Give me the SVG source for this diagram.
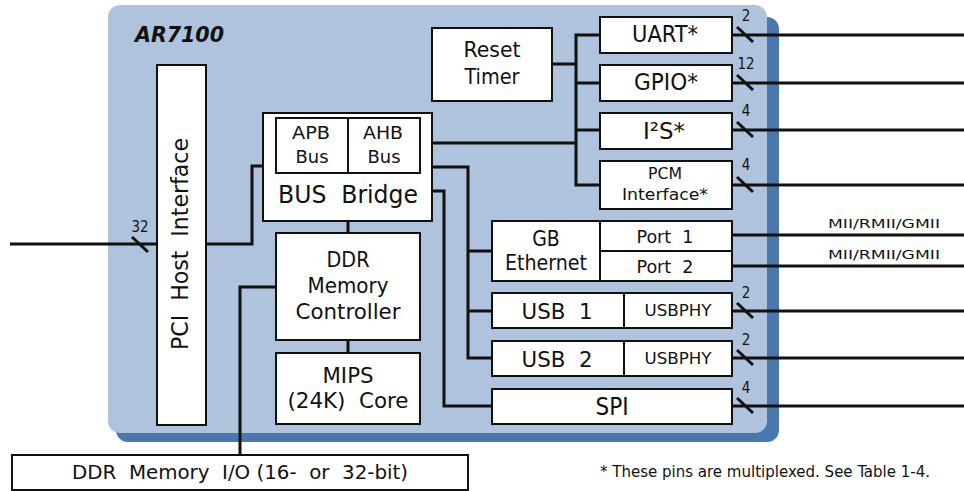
<svg xmlns="http://www.w3.org/2000/svg" width="964" height="491" viewBox="0 0 964 491">
<style>
text { font-family: "DejaVu Sans Condensed", "DejaVu Sans", sans-serif; fill: #111; text-anchor: middle; }
.box { fill: #fff; stroke: #111; stroke-width: 2; }
.div { stroke: #111; stroke-width: 2; fill: none; }
.w { fill: none; stroke: #111; stroke-width: 3; }
.sl { stroke: #111; stroke-width: 3; }
.n { font-size: 15px; }
.t18 { font-size: 18px; }
.t20 { font-size: 20px; }
.t21 { font-size: 21px; }
.t22 { font-size: 22px; }
.t23 { font-size: 23px; }
.t24 { font-size: 24px; }
.sm { font-size: 13px; }
</style>

<g id="chip">
  <rect x="116" y="17" width="663" height="425" rx="12" fill="#4a77ad"/>
  <rect x="108" y="5" width="659" height="428" rx="12" fill="#afc3dc"/>
  <text x="135" y="42" textLength="89" lengthAdjust="spacingAndGlyphs" style="text-anchor:start;font-size:22px;font-weight:bold;font-style:italic">AR7100</text>
</g>

<g id="connectors">
  <!-- PCI external -->
  <line class="w" x1="10" y1="244" x2="157" y2="244"/>
  <line class="sl" x1="132" y1="237" x2="148" y2="252"/>
  <text class="n" x="140" y="232" textLength="17" lengthAdjust="spacingAndGlyphs">32</text>
  <!-- PCI to bus bridge -->
  <polyline class="w" points="206,244 252,244 252,166 263,166"/>
  <!-- bus bridge to DDR, DDR to MIPS -->
  <line class="w" x1="348" y1="221" x2="348" y2="233"/>
  <line class="w" x1="348" y1="340" x2="348" y2="353"/>
  <!-- DDR to DDR I/O -->
  <polyline class="w" points="276,287 240,287 240,455"/>
  <!-- APB bus -->
  <line class="w" x1="432" y1="143" x2="576" y2="143"/>
  <line class="w" x1="552" y1="64" x2="576" y2="64"/>
  <polyline class="w" points="600,35 576,35 576,185 600,185"/>
  <line class="w" x1="576" y1="83" x2="600" y2="83"/>
  <line class="w" x1="576" y1="130" x2="600" y2="130"/>
  <!-- AHB bus -->
  <polyline class="w" points="432,167 468,167 468,358 492,358"/>
  <line class="w" x1="468" y1="251" x2="492" y2="251"/>
  <line class="w" x1="468" y1="311" x2="492" y2="311"/>
  <polyline class="w" points="432,191 444,191 444,406 492,406"/>
  <!-- external pins -->
  <line class="w" x1="732" y1="35" x2="964" y2="35"/>
  <line class="w" x1="732" y1="83" x2="964" y2="83"/>
  <line class="w" x1="732" y1="130" x2="964" y2="130"/>
  <line class="w" x1="732" y1="185" x2="964" y2="185"/>
  <line class="w" x1="732" y1="235" x2="964" y2="235"/>
  <line class="w" x1="732" y1="266" x2="964" y2="266"/>
  <line class="w" x1="732" y1="311" x2="964" y2="311"/>
  <line class="w" x1="732" y1="358" x2="964" y2="358"/>
  <line class="w" x1="732" y1="406" x2="964" y2="406"/>
  <!-- bus-width slashes -->
  <line class="sl" x1="737" y1="27" x2="753" y2="42"/>
  <line class="sl" x1="737" y1="75" x2="753" y2="90"/>
  <line class="sl" x1="737" y1="122" x2="753" y2="137"/>
  <line class="sl" x1="737" y1="177" x2="753" y2="192"/>
  <line class="sl" x1="737" y1="303" x2="753" y2="318"/>
  <line class="sl" x1="737" y1="350" x2="753" y2="365"/>
  <line class="sl" x1="737" y1="398" x2="753" y2="413"/>
  <text class="n" x="746" y="21">2</text>
  <text class="n" x="746" y="69" textLength="17" lengthAdjust="spacingAndGlyphs">12</text>
  <text class="n" x="746" y="116">4</text>
  <text class="n" x="746" y="170">4</text>
  <text class="n" x="746" y="298">2</text>
  <text class="n" x="746" y="345">2</text>
  <text class="n" x="746" y="393">4</text>
  <text class="sm" x="884" y="228" textLength="112" lengthAdjust="spacingAndGlyphs">MII/RMII/GMII</text>
  <text class="sm" x="884" y="259" textLength="112" lengthAdjust="spacingAndGlyphs">MII/RMII/GMII</text>
</g>

<g id="pci">
  <rect class="box" x="157" y="65" width="49" height="360"/>
  <text class="t23" xml:space="preserve" transform="translate(188,244) rotate(-90)" textLength="212" lengthAdjust="spacingAndGlyphs">PCI  Host  Interface</text>
</g>

<g id="busbridge">
  <rect class="box" x="263" y="113" width="169" height="108"/>
  <rect class="box" x="276" y="118" width="144" height="55"/>
  <line class="div" x1="348" y1="118" x2="348" y2="173"/>
  <text class="t18" x="311" y="139" textLength="38" lengthAdjust="spacingAndGlyphs">APB</text>
  <text class="t18" x="312" y="163" textLength="33" lengthAdjust="spacingAndGlyphs">Bus</text>
  <text class="t18" x="383" y="139" textLength="40" lengthAdjust="spacingAndGlyphs">AHB</text>
  <text class="t18" x="384" y="163" textLength="33" lengthAdjust="spacingAndGlyphs">Bus</text>
  <text class="t24" x="348" y="203" xml:space="preserve" textLength="140" lengthAdjust="spacingAndGlyphs">BUS  Bridge</text>
</g>

<g id="reset">
  <rect class="box" x="432" y="28" width="120" height="73"/>
  <text class="t22" x="492" y="57" textLength="57" lengthAdjust="spacingAndGlyphs">Reset</text>
  <text class="t22" x="492" y="84" textLength="55" lengthAdjust="spacingAndGlyphs">Timer</text>
</g>

<g id="ddr">
  <rect class="box" x="276" y="233" width="144" height="107"/>
  <text class="t21" x="348" y="267" textLength="43" lengthAdjust="spacingAndGlyphs">DDR</text>
  <text class="t21" x="348" y="293" textLength="81" lengthAdjust="spacingAndGlyphs">Memory</text>
  <text class="t21" x="348" y="319" textLength="105" lengthAdjust="spacingAndGlyphs">Controller</text>
</g>

<g id="mips">
  <rect class="box" x="276" y="353" width="144" height="71"/>
  <text class="t21" x="348" y="383" textLength="51" lengthAdjust="spacingAndGlyphs">MIPS</text>
  <text class="t21" x="348" y="408" xml:space="preserve" textLength="121" lengthAdjust="spacingAndGlyphs">(24K)  Core</text>
</g>

<g id="uart">
  <rect class="box" x="600" y="17" width="132" height="36"/>
  <text class="t23" x="665" y="42" textLength="66" lengthAdjust="spacingAndGlyphs">UART*</text>
</g>
<g id="gpio">
  <rect class="box" x="600" y="65" width="132" height="36"/>
  <text class="t23" x="666" y="90" textLength="64" lengthAdjust="spacingAndGlyphs">GPIO*</text>
</g>
<g id="i2s">
  <rect class="box" x="600" y="113" width="132" height="36"/>
  <text class="t23" x="664" y="139" textLength="42" lengthAdjust="spacingAndGlyphs">I²S*</text>
</g>
<g id="pcm">
  <rect class="box" x="600" y="161" width="132" height="48"/>
  <text x="665" y="179" style="font-size:16px" textLength="34" lengthAdjust="spacingAndGlyphs">PCM</text>
  <text x="665" y="200" style="font-size:16px" textLength="86" lengthAdjust="spacingAndGlyphs">Interface*</text>
</g>

<g id="ethernet">
  <rect class="box" x="492" y="221" width="240" height="60"/>
  <line class="div" x1="600" y1="221" x2="600" y2="281"/>
  <line class="div" x1="600" y1="251" x2="732" y2="251"/>
  <text class="t21" x="546" y="246">GB</text>
  <text class="t21" x="546" y="270" textLength="82" lengthAdjust="spacingAndGlyphs">Ethernet</text>
  <text x="665" y="243" style="font-size:17px" xml:space="preserve" textLength="57" lengthAdjust="spacingAndGlyphs">Port  1</text>
  <text x="665" y="273" style="font-size:17px" xml:space="preserve" textLength="57" lengthAdjust="spacingAndGlyphs">Port  2</text>
</g>

<g id="usb1">
  <rect class="box" x="492" y="293" width="240" height="35"/>
  <line class="div" x1="624" y1="293" x2="624" y2="328"/>
  <text class="t22" x="557" y="319" xml:space="preserve" textLength="71" lengthAdjust="spacingAndGlyphs">USB  1</text>
  <text x="678" y="316" style="font-size:15px" textLength="67" lengthAdjust="spacingAndGlyphs">USBPHY</text>
</g>

<g id="usb2">
  <rect class="box" x="492" y="341" width="240" height="35"/>
  <line class="div" x1="624" y1="341" x2="624" y2="376"/>
  <text class="t22" x="557" y="367" xml:space="preserve" textLength="71" lengthAdjust="spacingAndGlyphs">USB  2</text>
  <text x="678" y="364" style="font-size:15px" textLength="67" lengthAdjust="spacingAndGlyphs">USBPHY</text>
</g>

<g id="spi">
  <rect class="box" x="492" y="389" width="240" height="35"/>
  <text class="t24" x="612" y="415">SPI</text>
</g>

<g id="ddrio">
  <rect class="box" x="12" y="455" width="456" height="35"/>
  <text class="t20" x="240" y="479" xml:space="preserve" textLength="336" lengthAdjust="spacingAndGlyphs">DDR  Memory  I/O (16-  or  32-bit)</text>
</g>

<g id="footnote">
  <text x="600" y="477" style="text-anchor:start;font-size:16px" textLength="330" lengthAdjust="spacingAndGlyphs">* These pins are multiplexed. See Table 1-4.</text>
</g>
</svg>
